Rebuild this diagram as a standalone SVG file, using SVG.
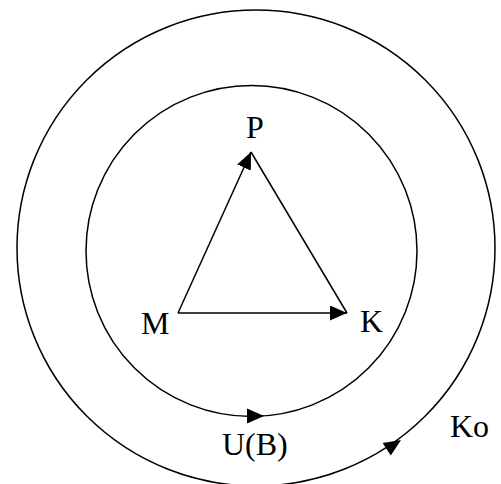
<svg xmlns="http://www.w3.org/2000/svg" width="501" height="484" viewBox="0 0 501 484">
<style>
.ln{fill:none;stroke:#000;stroke-width:1.5}
.lb{font-family:"Liberation Serif","Times New Roman",serif;font-size:32px;fill:#000}
</style>
<defs>
<marker id="arr" markerUnits="userSpaceOnUse" markerWidth="17" markerHeight="15" refX="17" refY="7.5" orient="auto">
<path d="M0,0 L17,7.5 L0,15 z" fill="#000"/>
</marker>
<path id="ah" d="M-17,-7.5 L0,0 L-17,7.5 z" fill="#000"/>
</defs>
<rect width="501" height="484" fill="#fff"/>
<g id="outer">
<ellipse class="ln" cx="256" cy="248" rx="239" ry="238"/>
<use href="#ah" transform="translate(401,440) rotate(-33)"/>
<text class="lb" x="450" y="437">Ko</text>
</g>
<g id="inner">
<circle class="ln" cx="251.5" cy="251" r="165.5"/>
<use href="#ah" transform="translate(264,416) rotate(0)"/>
<text class="lb" x="222" y="455">U(B)</text>
</g>
<g id="M"><text class="lb" x="141" y="334">M</text></g>
<g id="P"><text class="lb" x="246" y="138">P</text></g>
<g id="K"><text class="lb" x="360" y="332">K</text></g>
<g id="connectors">
<line class="ln" x1="178" y1="313" x2="251" y2="152" marker-end="url(#arr)"/>
<line class="ln" x1="251" y1="152" x2="347" y2="313"/>
<line class="ln" x1="178" y1="313" x2="347" y2="313" marker-end="url(#arr)"/>
</g>
</svg>
